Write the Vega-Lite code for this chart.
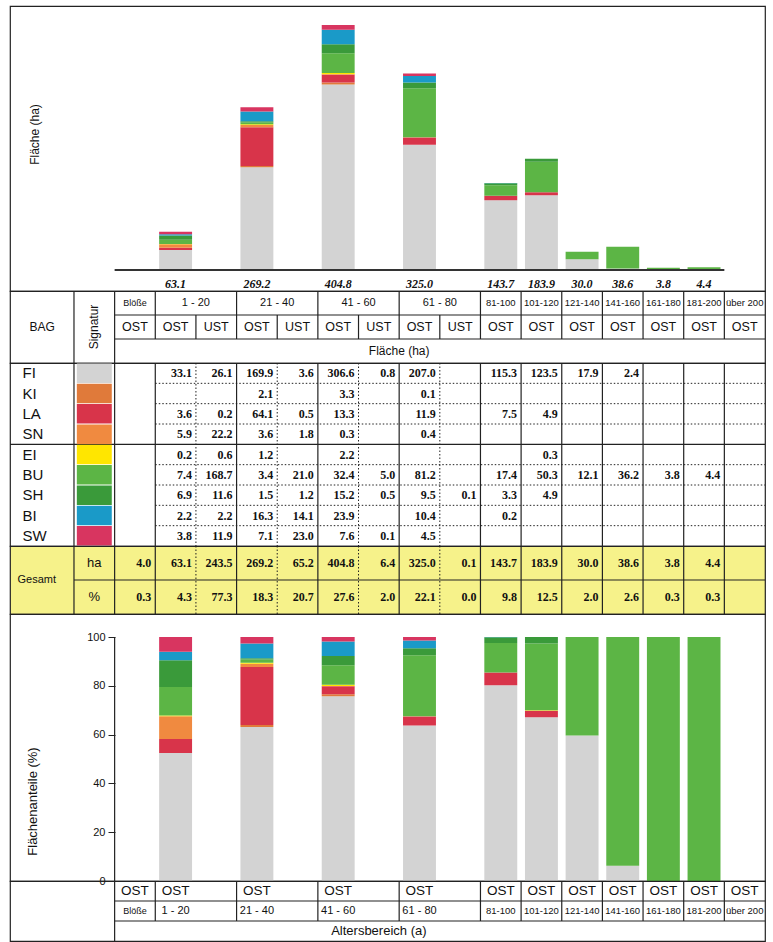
{
"$schema":"https://vega.github.io/schema/vega-lite/v6.json",
"padding":{"left":8,"top":5,"right":0,"bottom":0},
"background":"white",
"spacing":0,
"bounds":"flush",
"config":{
 "view":{"stroke":"#222","strokeWidth":1.2},
 "axis":{"grid":false,"minExtent":0},
 "text":{"font":"Liberation Sans","color":"#111","baseline":"middle"},
 "rule":{"color":"#222","strokeWidth":1.2}
},
"datasets":{
 "cells":[
  {"c":"1-20 OST","l":"OST","s":"FI","v":33.1},{"c":"1-20 UST","l":"UST","s":"FI","v":26.1},{"c":"21-40 OST","l":"OST","s":"FI","v":169.9},{"c":"21-40 UST","l":"UST","s":"FI","v":3.6},{"c":"41-60 OST","l":"OST","s":"FI","v":306.6},{"c":"41-60 UST","l":"UST","s":"FI","v":0.8},{"c":"61-80 OST","l":"OST","s":"FI","v":207.0},{"c":"81-100 OST","l":"OST","s":"FI","v":115.3},{"c":"101-120 OST","l":"OST","s":"FI","v":123.5},{"c":"121-140 OST","l":"OST","s":"FI","v":17.9},{"c":"141-160 OST","l":"OST","s":"FI","v":2.4},
  {"c":"21-40 OST","l":"OST","s":"KI","v":2.1},{"c":"41-60 OST","l":"OST","s":"KI","v":3.3},{"c":"61-80 OST","l":"OST","s":"KI","v":0.1},
  {"c":"1-20 OST","l":"OST","s":"LA","v":3.6},{"c":"1-20 UST","l":"UST","s":"LA","v":0.2},{"c":"21-40 OST","l":"OST","s":"LA","v":64.1},{"c":"21-40 UST","l":"UST","s":"LA","v":0.5},{"c":"41-60 OST","l":"OST","s":"LA","v":13.3},{"c":"61-80 OST","l":"OST","s":"LA","v":11.9},{"c":"81-100 OST","l":"OST","s":"LA","v":7.5},{"c":"101-120 OST","l":"OST","s":"LA","v":4.9},
  {"c":"1-20 OST","l":"OST","s":"SN","v":5.9},{"c":"1-20 UST","l":"UST","s":"SN","v":22.2},{"c":"21-40 OST","l":"OST","s":"SN","v":3.6},{"c":"21-40 UST","l":"UST","s":"SN","v":1.8},{"c":"41-60 OST","l":"OST","s":"SN","v":0.3},{"c":"61-80 OST","l":"OST","s":"SN","v":0.4},
  {"c":"1-20 OST","l":"OST","s":"EI","v":0.2},{"c":"1-20 UST","l":"UST","s":"EI","v":0.6},{"c":"21-40 OST","l":"OST","s":"EI","v":1.2},{"c":"41-60 OST","l":"OST","s":"EI","v":2.2},{"c":"101-120 OST","l":"OST","s":"EI","v":0.3},
  {"c":"1-20 OST","l":"OST","s":"BU","v":7.4},{"c":"1-20 UST","l":"UST","s":"BU","v":168.7},{"c":"21-40 OST","l":"OST","s":"BU","v":3.4},{"c":"21-40 UST","l":"UST","s":"BU","v":21.0},{"c":"41-60 OST","l":"OST","s":"BU","v":32.4},{"c":"41-60 UST","l":"UST","s":"BU","v":5.0},{"c":"61-80 OST","l":"OST","s":"BU","v":81.2},{"c":"81-100 OST","l":"OST","s":"BU","v":17.4},{"c":"101-120 OST","l":"OST","s":"BU","v":50.3},{"c":"121-140 OST","l":"OST","s":"BU","v":12.1},{"c":"141-160 OST","l":"OST","s":"BU","v":36.2},{"c":"161-180 OST","l":"OST","s":"BU","v":3.8},{"c":"181-200 OST","l":"OST","s":"BU","v":4.4},
  {"c":"1-20 OST","l":"OST","s":"SH","v":6.9},{"c":"1-20 UST","l":"UST","s":"SH","v":11.6},{"c":"21-40 OST","l":"OST","s":"SH","v":1.5},{"c":"21-40 UST","l":"UST","s":"SH","v":1.2},{"c":"41-60 OST","l":"OST","s":"SH","v":15.2},{"c":"41-60 UST","l":"UST","s":"SH","v":0.5},{"c":"61-80 OST","l":"OST","s":"SH","v":9.5},{"c":"61-80 UST","l":"UST","s":"SH","v":0.1},{"c":"81-100 OST","l":"OST","s":"SH","v":3.3},{"c":"101-120 OST","l":"OST","s":"SH","v":4.9},
  {"c":"1-20 OST","l":"OST","s":"BI","v":2.2},{"c":"1-20 UST","l":"UST","s":"BI","v":2.2},{"c":"21-40 OST","l":"OST","s":"BI","v":16.3},{"c":"21-40 UST","l":"UST","s":"BI","v":14.1},{"c":"41-60 OST","l":"OST","s":"BI","v":23.9},{"c":"61-80 OST","l":"OST","s":"BI","v":10.4},{"c":"81-100 OST","l":"OST","s":"BI","v":0.2},
  {"c":"1-20 OST","l":"OST","s":"SW","v":3.8},{"c":"1-20 UST","l":"UST","s":"SW","v":11.9},{"c":"21-40 OST","l":"OST","s":"SW","v":7.1},{"c":"21-40 UST","l":"UST","s":"SW","v":23.0},{"c":"41-60 OST","l":"OST","s":"SW","v":7.6},{"c":"41-60 UST","l":"UST","s":"SW","v":0.1},{"c":"61-80 OST","l":"OST","s":"SW","v":4.5}
 ],
 "tot":[
  {"c":"Blöße OST","l":"OST","ha":4.0,"pct":0.3},{"c":"1-20 OST","l":"OST","ha":63.1,"pct":4.3},{"c":"1-20 UST","l":"UST","ha":243.5,"pct":77.3},{"c":"21-40 OST","l":"OST","ha":269.2,"pct":18.3},{"c":"21-40 UST","l":"UST","ha":65.2,"pct":20.7},{"c":"41-60 OST","l":"OST","ha":404.8,"pct":27.6},{"c":"41-60 UST","l":"UST","ha":6.4,"pct":2.0},{"c":"61-80 OST","l":"OST","ha":325.0,"pct":22.1},{"c":"61-80 UST","l":"UST","ha":0.1,"pct":0.0},{"c":"81-100 OST","l":"OST","ha":143.7,"pct":9.8},{"c":"101-120 OST","l":"OST","ha":183.9,"pct":12.5},{"c":"121-140 OST","l":"OST","ha":30.0,"pct":2.0},{"c":"141-160 OST","l":"OST","ha":38.6,"pct":2.6},{"c":"161-180 OST","l":"OST","ha":3.8,"pct":0.3},{"c":"181-200 OST","l":"OST","ha":4.4,"pct":0.3}
 ],
 "vsolid":[{"c":"Signatur"},{"c":"Blöße OST"},{"c":"1-20 OST"},{"c":"21-40 OST"},{"c":"41-60 OST"},{"c":"61-80 OST"},{"c":"81-100 OST"},{"c":"101-120 OST"},{"c":"121-140 OST"},{"c":"141-160 OST"},{"c":"161-180 OST"},{"c":"181-200 OST"},{"c":"über 200 OST"}],
 "vdot":[{"c":"1-20 UST"},{"c":"21-40 UST"},{"c":"41-60 UST"},{"c":"61-80 UST"}],
 "species":[{"s":"FI","i":1},{"s":"KI","i":2},{"s":"LA","i":3},{"s":"SN","i":4},{"s":"EI","i":5},{"s":"BU","i":6},{"s":"SH","i":7},{"s":"BI","i":8},{"s":"SW","i":9}],
 "merged":[{"c":"1-20 UST","o":"1-20 OST","t":"1 - 20"},{"c":"21-40 UST","o":"21-40 OST","t":"21 - 40"},{"c":"41-60 UST","o":"41-60 OST","t":"41 - 60"},{"c":"61-80 UST","o":"61-80 OST","t":"61 - 80"}],
 "single":[{"c":"81-100 OST","t":"81-100"},{"c":"101-120 OST","t":"101-120"},{"c":"121-140 OST","t":"121-140"},{"c":"141-160 OST","t":"141-160"},{"c":"161-180 OST","t":"161-180"},{"c":"181-200 OST","t":"181-200"},{"c":"über 200 OST","t":"über 200"}],
 "layers":[{"c":"Blöße OST","t":"OST"},{"c":"1-20 OST","t":"OST"},{"c":"1-20 UST","t":"UST"},{"c":"21-40 OST","t":"OST"},{"c":"21-40 UST","t":"UST"},{"c":"41-60 OST","t":"OST"},{"c":"41-60 UST","t":"UST"},{"c":"61-80 OST","t":"OST"},{"c":"61-80 UST","t":"UST"},{"c":"81-100 OST","t":"OST"},{"c":"101-120 OST","t":"OST"},{"c":"121-140 OST","t":"OST"},{"c":"141-160 OST","t":"OST"},{"c":"161-180 OST","t":"OST"},{"c":"181-200 OST","t":"OST"},{"c":"über 200 OST","t":"OST"}]
},
"vconcat":[
 {
  "width":755,"height":285,
  "layer":[
   {"data":{"name":"cells"},"transform":[{"filter":"datum.l == 'OST'"},{"lookup":"s","from":{"data":{"name":"species"},"key":"s","fields":["i"]}}],
    "mark":{"type":"bar","width":{"band":0.81}},
    "encoding":{
     "x":{"field":"c","type":"nominal","title":null,"scale":{"type":"band","domain":["Signatur","Blöße OST","1-20 OST","1-20 UST","21-40 OST","21-40 UST","41-60 OST","41-60 UST","61-80 OST","61-80 UST","81-100 OST","101-120 OST","121-140 OST","141-160 OST","161-180 OST","181-200 OST","über 200 OST"],"paddingInner":0,"paddingOuter":0.787,"align":1},
      "axis":{"orient":"top","labels":false,"ticks":false,"domain":false,"title":"Altersbereich (a)","titleY":11,"titleBaseline":"middle","titleFontSize":12,"titleFontWeight":"normal","titleFont":"Liberation Sans","titleColor":"#111"}},
     "y":{"field":"v","type":"quantitative","stack":"zero","scale":{"domain":[-34.7,436.4],"nice":false,"zero":false},
      "axis":{"labels":false,"ticks":false,"domain":false,"title":"Fläche (ha)","titleX":24,"titleY":128,"titleAlign":"center","titleBaseline":"middle","titleAngle":270,"titleFontSize":12,"titleFontWeight":"normal","titleFont":"Liberation Sans","titleColor":"#111","minExtent":0}},
     "color":{"field":"s","type":"nominal","scale":{"domain":["FI","KI","LA","SN","EI","BU","SH","BI","SW"],"range":["#d3d3d3","#e07a3a","#d8344a","#f08a40","#ffe600","#5cb545","#3a9a3a","#1a9ac8","#d83560"]},"legend":null},
     "order":{"field":"i","type":"quantitative","sort":"ascending"}
    }},
   {"data":{"name":"tot"},"transform":[{"filter":"datum.l == 'OST' && datum.c != 'Blöße OST'"}],
    "mark":{"type":"text","font":"Liberation Serif","fontWeight":"bold","fontStyle":"italic","fontSize":12,"dy":14},
    "encoding":{"x":{"field":"c","type":"nominal","title":null},"y":{"datum":0,"type":"quantitative","title":null},"text":{"field":"ha","type":"quantitative","format":".1f"}}},
   {"data":{"values":[{}]},"mark":{"type":"rule","strokeWidth":2,"color":"#333"},
    "encoding":{"x":{"datum":"Blöße OST","type":"nominal","bandPosition":0,"title":null},"x2":{"datum":"über 200 OST","bandPosition":0},"y":{"datum":0,"type":"quantitative","title":null}}}
  ]
 },
 {
  "width":755,"height":72,
  "layer":[
   {"data":{"name":"vsolid"},"transform":[{"filter":"datum.c == 'Signatur' || datum.c == 'Blöße OST'"}],"mark":"rule",
    "encoding":{"x":{"field":"c","type":"nominal","bandPosition":0,"scale":{"type":"band","domain":["Signatur","Blöße OST","1-20 OST","1-20 UST","21-40 OST","21-40 UST","41-60 OST","41-60 UST","61-80 OST","61-80 UST","81-100 OST","101-120 OST","121-140 OST","141-160 OST","161-180 OST","181-200 OST","über 200 OST"],"paddingInner":0,"paddingOuter":0.787,"align":1},"axis":null}}},
   {"data":{"name":"vsolid"},"transform":[{"filter":"datum.c != 'Signatur' && datum.c != 'Blöße OST'"}],"mark":"rule",
    "encoding":{"x":{"field":"c","type":"nominal","bandPosition":0,"axis":null},
     "y":{"datum":"h1","type":"nominal","bandPosition":0,"title":null,"scale":{"type":"band","domain":["h1","h2","h3"],"paddingInner":0,"paddingOuter":0},
      "axis":{"domain":false,"ticks":false,"tickSize":0,"labelAlign":"left","labelPadding":-19,"labelFontSize":12,"labelFont":"Liberation Sans","labelColor":"#111","labelExpr":"datum.value == 'h2' ? 'BAG' : ''","title":null,"minExtent":0}},
     "y2":{"datum":"h2","bandPosition":1}}},
   {"data":{"name":"vdot"},"mark":"rule",
    "encoding":{"x":{"field":"c","type":"nominal","bandPosition":0,"axis":null},"y":{"datum":"h2","type":"nominal","bandPosition":0,"title":null},"y2":{"datum":"h2","bandPosition":1}}},
   {"data":{"values":[{"r":"h2"},{"r":"h3"}]},"mark":"rule",
    "encoding":{"y":{"field":"r","type":"nominal","bandPosition":0,"title":null},"x":{"datum":"Blöße OST","type":"nominal","bandPosition":0,"axis":null},"x2":{"datum":"über 200 OST","bandPosition":1}}},
   {"data":{"values":[{"t":"Blöße"}]},"mark":{"type":"text","fontSize":9},
    "encoding":{"x":{"datum":"Blöße OST","type":"nominal","axis":null},"y":{"datum":"h1","type":"nominal","title":null},"text":{"field":"t"}}},
   {"data":{"name":"merged"},"mark":{"type":"text","fontSize":11},
    "encoding":{"x":{"field":"c","type":"nominal","bandPosition":0,"axis":null},"y":{"datum":"h1","type":"nominal","title":null},"text":{"field":"t"}}},
   {"data":{"name":"single"},"mark":{"type":"text","fontSize":9.5},
    "encoding":{"x":{"field":"c","type":"nominal","axis":null},"y":{"datum":"h1","type":"nominal","title":null},"text":{"field":"t"}}},
   {"data":{"name":"layers"},"mark":{"type":"text","fontSize":12.5},
    "encoding":{"x":{"field":"c","type":"nominal","axis":null},"y":{"datum":"h2","type":"nominal","title":null},"text":{"field":"t"}}},
   {"data":{"values":[{"t":"Fläche (ha)"}]},"mark":{"type":"text","fontSize":12},
    "encoding":{"x":{"datum":"61-80 OST","type":"nominal","bandPosition":0,"axis":null},"y":{"datum":"h3","type":"nominal","title":null},"text":{"field":"t"}}},
   {"data":{"values":[{"t":"Signatur"}]},"mark":{"type":"text","fontSize":12,"angle":270},
    "encoding":{"x":{"datum":"Signatur","type":"nominal","axis":null},"y":{"datum":"h2","type":"nominal","title":null},"text":{"field":"t"}}}
  ]
 },
 {
  "width":755,"height":183,
  "layer":[
   {"data":{"name":"vsolid"},"mark":"rule",
    "encoding":{"x":{"field":"c","type":"nominal","bandPosition":0,"scale":{"type":"band","domain":["Signatur","Blöße OST","1-20 OST","1-20 UST","21-40 OST","21-40 UST","41-60 OST","41-60 UST","61-80 OST","61-80 UST","81-100 OST","101-120 OST","121-140 OST","141-160 OST","161-180 OST","181-200 OST","über 200 OST"],"paddingInner":0,"paddingOuter":0.787,"align":1},"axis":null}}},
   {"data":{"name":"vdot"},"mark":{"type":"rule","strokeDash":[1.5,2],"strokeWidth":1},
    "encoding":{"x":{"field":"c","type":"nominal","bandPosition":0,"axis":null}}},
   {"data":{"values":[{"r":"KI"},{"r":"LA"},{"r":"SN"},{"r":"BU"},{"r":"SH"},{"r":"BI"},{"r":"SW"}]},"mark":{"type":"rule","strokeDash":[1.5,2],"strokeWidth":1},
    "encoding":{"y":{"field":"r","type":"nominal","bandPosition":0,"title":null,"scale":{"type":"band","domain":["FI","KI","LA","SN","EI","BU","SH","BI","SW"],"paddingInner":0,"paddingOuter":0}},
     "x":{"datum":"1-20 OST","type":"nominal","bandPosition":0,"axis":null},"x2":{"datum":"über 200 OST","bandPosition":1}}},
   {"data":{"values":[{}]},"mark":"rule",
    "encoding":{"y":{"datum":"EI","type":"nominal","bandPosition":0,"title":null}}},
   {"data":{"name":"species"},"mark":{"type":"bar","width":{"band":0.86},"height":{"band":0.96}},
    "encoding":{"x":{"datum":"Signatur","type":"nominal","axis":null},
     "y":{"field":"s","type":"nominal","title":null,"axis":{"domain":false,"ticks":false,"tickSize":0,"labelAlign":"left","labelPadding":-12,"labelFontSize":15,"labelFont":"Liberation Sans","labelColor":"#111","title":null,"minExtent":0}},
     "color":{"field":"s","type":"nominal","scale":{"domain":["FI","KI","LA","SN","EI","BU","SH","BI","SW"],"range":["#d3d3d3","#e07a3a","#d8344a","#f08a40","#ffe600","#5cb545","#3a9a3a","#1a9ac8","#d83560"]},"legend":null}}},
   {"data":{"name":"cells"},"mark":{"type":"text","font":"Liberation Serif","fontWeight":"bold","fontSize":12,"align":"right","dx":-4},
    "encoding":{"x":{"field":"c","type":"nominal","bandPosition":1,"axis":null},"y":{"field":"s","type":"nominal","title":null},"text":{"field":"v","type":"quantitative","format":".1f"}}}
  ]
 },
 {
  "width":755,"height":68,
  "view":{"fill":"#f6f28a","stroke":"#222","strokeWidth":1.2},
  "layer":[
   {"data":{"name":"vsolid"},"mark":"rule",
    "encoding":{"x":{"field":"c","type":"nominal","bandPosition":0,"scale":{"type":"band","domain":["Signatur","Blöße OST","1-20 OST","1-20 UST","21-40 OST","21-40 UST","41-60 OST","41-60 UST","61-80 OST","61-80 UST","81-100 OST","101-120 OST","121-140 OST","141-160 OST","161-180 OST","181-200 OST","über 200 OST"],"paddingInner":0,"paddingOuter":0.787,"align":1},"axis":null}}},
   {"data":{"name":"vdot"},"mark":{"type":"rule","strokeDash":[1.5,2],"strokeWidth":1},
    "encoding":{"x":{"field":"c","type":"nominal","bandPosition":0,"axis":null}}},
   {"data":{"values":[{}]},"mark":"rule",
    "encoding":{"y":{"datum":"pct","type":"nominal","bandPosition":0,"title":null,"scale":{"type":"band","domain":["ha","pct"],"paddingInner":0,"paddingOuter":0}},
     "x":{"datum":"Signatur","type":"nominal","bandPosition":0,"axis":null},"x2":{"datum":"über 200 OST","bandPosition":1}}},
   {"data":{"values":[{"r":"ha","t":"ha"},{"r":"pct","t":"%"}]},"mark":{"type":"text","fontSize":13},
    "encoding":{"x":{"datum":"Signatur","type":"nominal","axis":null},
     "y":{"field":"r","type":"nominal","title":null,"axis":{"domain":false,"ticks":false,"tickSize":0,"labelAlign":"left","labelPadding":-7,"labelOffset":17,"labelFontSize":11,"labelFont":"Liberation Sans","labelColor":"#111","labelExpr":"datum.value == 'ha' ? 'Gesamt' : ''","title":null,"minExtent":0}},
     "text":{"field":"t"}}},
   {"data":{"name":"tot"},"mark":{"type":"text","font":"Liberation Serif","fontWeight":"bold","fontSize":12,"align":"right","dx":-4},
    "encoding":{"x":{"field":"c","type":"nominal","bandPosition":1,"axis":null},"y":{"datum":"ha","type":"nominal","title":null},"text":{"field":"ha","type":"quantitative","format":".1f"}}},
   {"data":{"name":"tot"},"mark":{"type":"text","font":"Liberation Serif","fontWeight":"bold","fontSize":12,"align":"right","dx":-4},
    "encoding":{"x":{"field":"c","type":"nominal","bandPosition":1,"axis":null},"y":{"datum":"pct","type":"nominal","title":null},"text":{"field":"pct","type":"quantitative","format":".1f"}}}
  ]
 },
 {
  "width":755,"height":267,
  "layer":[
   {"data":{"name":"cells"},"transform":[{"filter":"datum.l == 'OST'"},{"lookup":"s","from":{"data":{"name":"species"},"key":"s","fields":["i"]}}],
    "mark":{"type":"bar","width":{"band":0.81}},
    "encoding":{
     "x":{"field":"c","type":"nominal","scale":{"type":"band","domain":["Signatur","Blöße OST","1-20 OST","1-20 UST","21-40 OST","21-40 UST","41-60 OST","41-60 UST","61-80 OST","61-80 UST","81-100 OST","101-120 OST","121-140 OST","141-160 OST","161-180 OST","181-200 OST","über 200 OST"],"paddingInner":0,"paddingOuter":0.787,"align":1},"axis":null},
     "y":{"field":"v","type":"quantitative","stack":"normalize","title":null,"scale":{"domain":[0,1.0943],"nice":false,"zero":false},
      "axis":{"offset":-105,"values":[0,0.1,0.2,0.3,0.4,0.5,0.6,0.7,0.8,0.9,1],"labelExpr":"round(datum.value*10)%2==0 ? format(datum.value*100,'d') : ''","domain":false,"tickSize":7,"tickColor":"#222","labelFontSize":11,"labelFont":"Liberation Sans","labelColor":"#111","labelPadding":3,"title":"Flächenanteile (%)","titleFontSize":13,"titleFontWeight":"normal","titleFont":"Liberation Sans","titleColor":"#111","titleX":-83,"titleY":187,"titleAngle":270,"titleAlign":"center","titleBaseline":"middle","minExtent":0}},
     "color":{"field":"s","type":"nominal","scale":{"domain":["FI","KI","LA","SN","EI","BU","SH","BI","SW"],"range":["#d3d3d3","#e07a3a","#d8344a","#f08a40","#ffe600","#5cb545","#3a9a3a","#1a9ac8","#d83560"]},"legend":null},
     "order":{"field":"i","type":"quantitative","sort":"ascending"}
    }},
   {"data":{"values":[{}]},"mark":"rule",
    "encoding":{"x":{"datum":"Blöße OST","type":"nominal","bandPosition":0,"axis":null},"y":{"datum":1,"type":"quantitative","title":null},"y2":{"datum":0}}}
  ]
 },
 {
  "width":755,"height":60,
  "layer":[
   {"data":{"values":[{"c":"Blöße OST"}]},"mark":"rule",
    "encoding":{"x":{"field":"c","type":"nominal","bandPosition":0,"scale":{"type":"band","domain":["Signatur","Blöße OST","1-20 OST","1-20 UST","21-40 OST","21-40 UST","41-60 OST","41-60 UST","61-80 OST","61-80 UST","81-100 OST","101-120 OST","121-140 OST","141-160 OST","161-180 OST","181-200 OST","über 200 OST"],"paddingInner":0,"paddingOuter":0.787,"align":1},"axis":null}}},
   {"data":{"values":[{"r":"r2"},{"r":"r3"}]},"mark":"rule",
    "encoding":{"y":{"field":"r","type":"nominal","bandPosition":0,"scale":{"type":"band","domain":["r1","r2","r3"],"paddingInner":0,"paddingOuter":0},"axis":null},
     "x":{"datum":"Blöße OST","type":"nominal","bandPosition":0,"axis":null},"x2":{"datum":"über 200 OST","bandPosition":1}}},
   {"data":{"name":"vsolid"},"transform":[{"filter":"datum.c != 'Signatur' && datum.c != 'Blöße OST'"}],"mark":"rule",
    "encoding":{"x":{"field":"c","type":"nominal","bandPosition":0,"axis":null},"y":{"datum":"r1","type":"nominal","bandPosition":0,"axis":null},"y2":{"datum":"r2","bandPosition":1}}},
   {"data":{"name":"layers"},"transform":[{"filter":"datum.t == 'OST'"}],"mark":{"type":"text","fontSize":13.5},
    "encoding":{"x":{"field":"c","type":"nominal","axis":null},"y":{"datum":"r1","type":"nominal","axis":null},"text":{"field":"t"}}},
   {"data":{"values":[{"t":"Blöße"}]},"mark":{"type":"text","fontSize":9},
    "encoding":{"x":{"datum":"Blöße OST","type":"nominal","axis":null},"y":{"datum":"r2","type":"nominal","axis":null},"text":{"field":"t"}}},
   {"data":{"name":"merged"},"mark":{"type":"text","fontSize":11},
    "encoding":{"x":{"field":"o","type":"nominal","axis":null},"y":{"datum":"r2","type":"nominal","axis":null},"text":{"field":"t"}}},
   {"data":{"name":"single"},"mark":{"type":"text","fontSize":9.5},
    "encoding":{"x":{"field":"c","type":"nominal","axis":null},"y":{"datum":"r2","type":"nominal","axis":null},"text":{"field":"t"}}},
   {"data":{"values":[{"t":"Altersbereich (a)"}]},"mark":{"type":"text","fontSize":13},
    "encoding":{"x":{"datum":"41-60 UST","type":"nominal","axis":null},"y":{"datum":"r3","type":"nominal","axis":null},"text":{"field":"t"}}}
  ]
 }
]
}
